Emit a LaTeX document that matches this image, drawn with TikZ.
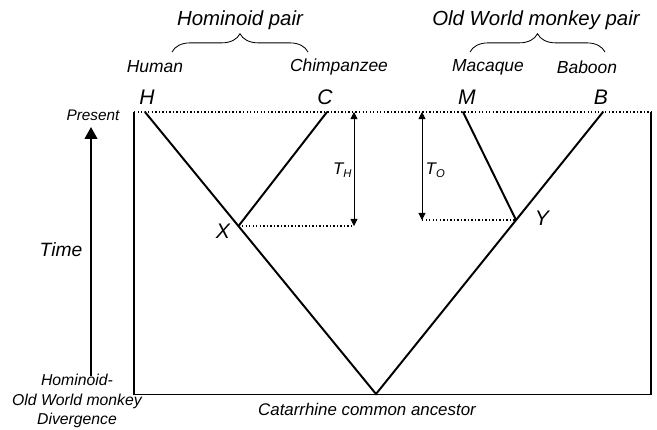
\documentclass[tikz,border=0pt]{standalone}
\usepackage{fontspec}
\setmainfont{Liberation Sans}
\usetikzlibrary{arrows.meta,positioning,calc,decorations.pathreplacing}

\newcommand{\fs}[1]{\fontsize{#1}{1.2\dimexpr#1pt\relax}\selectfont\itshape}

\begin{document}
\begin{tikzpicture}[x=0.025cm, y=-0.025cm, every node/.style={inner sep=1pt},
    branch/.style={line width=1.4pt, line cap=round},
    frame/.style={line width=1pt},
    dotline/.style={line width=1.2pt, dash pattern=on 1pt off 1.5pt},
    span/.style={line width=0.6pt, {Triangle[length=5pt,width=5pt]}-{Triangle[length=5pt,width=5pt]}},
    timearrow/.style={line width=1.4pt, -{Triangle[length=8.5pt,width=9pt]}},
    pairbrace/.style={decorate, decoration={brace, amplitude=13pt}, line width=0.6pt}]
    \useasboundingbox (0,0) rectangle (657,429);

    % tips, junctions and root
    \coordinate (H) at (145,112);
    \coordinate (C) at (327,112);
    \coordinate (M) at (463,112);
    \coordinate (B) at (603,112);
    \coordinate (R) at (376,394);
    \coordinate (X) at (238.5,226);
    \coordinate (Y) at (516,220);

    % frame
    \draw[dotline] (134,112) -- (651,112);
    \draw[frame] (134,112) -- (134,394.5) -- (651,394.5);
    \draw[line width=1.6pt] (651,394.5) -- (651,112);

    % tree
    \draw[branch] (H) -- (R) -- (B);
    \draw[branch] (C) -- (X);
    \draw[branch] (M) -- (Y);

    % branch lengths
    \coordinate (thTop) at (354,112);
    \coordinate (thBot) at (X -| thTop);
    \coordinate (toTop) at (422,112);
    \coordinate (toBot) at (Y -| toTop);
    \draw[dotline] (X) -- (thBot);
    \draw[dotline] (toBot) -- (Y);
    \draw[span] (thTop) -- (thBot);
    \draw[span] (toTop) -- (toBot);
    \node[font=\fs{12}, anchor=east] (th) at (354,170) {T\textsubscript{\itshape H}};
    \node[font=\fs{12}, anchor=west] (to) at (424,170) {T\textsubscript{\itshape O}};

    % tip and junction letters
    \node[font=\fs{15}] (Hl) at (147,97) {H};
    \node[font=\fs{15}] (Cl) at (325,97) {C};
    \node[font=\fs{15}] (Ml) at (467,97) {M};
    \node[font=\fs{15}] (Bl) at (601,97) {B};
    \node[font=\fs{15}] (Xl) at (223,231) {X};
    \node[font=\fs{15}] (Yl) at (542,218) {Y};

    % species and pairs
    \node[font=\fs{12.4}] (human) at (155,67) {Human};
    \node[font=\fs{12.4}] (chimp) at (339,67) {Chimpanzee};
    \node[font=\fs{12.4}] (macaque) at (488,67) {Macaque};
    \node[font=\fs{12.4}] (baboon) at (587,67) {Baboon};
    \draw[pairbrace] (172,52) -- (308,52);
    \draw[pairbrace] (470,52) -- (605,52);
    \node[font=\fs{14.5}] (hominoid) at (240,20) {Hominoid pair};
    \node[font=\fs{14.5}] (owm) at (536,20) {Old World monkey pair};

    % time axis
    \node[font=\fs{10.9}] (present) at (93,115) {Present};
    \node[font=\fs{13.7}] (time) at (61,250) {Time};
    \node[font=\fontsize{11.2}{13.6}\selectfont\itshape, align=center] (diverg) at (77,401) {Hominoid-\\Old World monkey\\Divergence};
    \coordinate (tBase) at (91,376);
    \coordinate (tTip) at (91,127);
    \draw[timearrow] (tBase) -- (tTip);

    \node[font=\fs{12}] (ancestor) at (367,409) {Catarrhine common ancestor};
\end{tikzpicture}
\end{document}
